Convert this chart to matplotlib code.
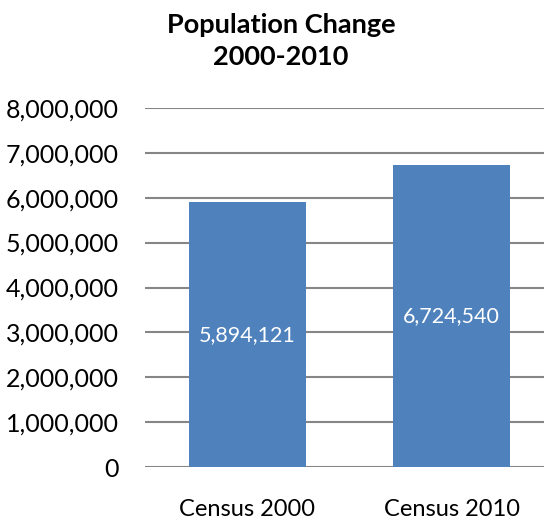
import matplotlib.pyplot as plt
from matplotlib.ticker import FuncFormatter

categories = ['Census 2000', 'Census 2010']
population = [5894121, 6724540]
yticks = [0, 1000000, 2000000, 3000000, 4000000, 5000000, 6000000, 7000000, 8000000]

plt.rcParams['font.family'] = ['Lato', 'DejaVu Sans']

fig = plt.figure(figsize=(5.44, 5.24), dpi=100)
ax = fig.add_axes([145/544, 1 - 467.3/524, 409/544, (467.3 - 107.7)/524])

x = range(len(categories))
bars = ax.bar(x, population, width=0.572, color='#4F81BD', zorder=3)
for b, v in zip(bars, population):
    ax.text(b.get_x() + b.get_width()/2, v/2, f'{v:,}', ha='center', va='center',
            color='white', fontsize=15.5, zorder=4)

ax.set_xlim(-0.5, 1.5)
ax.set_ylim(0, 8000000)
ax.set_yticks(yticks)
ax.yaxis.set_major_formatter(FuncFormatter(lambda v, p: f'{int(v):,}'))
ax.set_xticks(list(x))
ax.set_xticklabels(categories)
ax.tick_params(axis='y', length=0, labelsize=18, colors='black', pad=19)
ax.tick_params(axis='x', length=0, labelsize=17, colors='black', pad=23)
ax.grid(axis='y', color='#868686', linewidth=1.5, zorder=0)
for s in ax.spines.values():
    s.set_visible(False)

fig.text(281/544, 1 - 41/524, 'Population Change\n2000-2010', ha='center', va='center',
         fontsize=19.5, fontweight='bold', linespacing=1.4)

fig.savefig('out.png', dpi=100)
